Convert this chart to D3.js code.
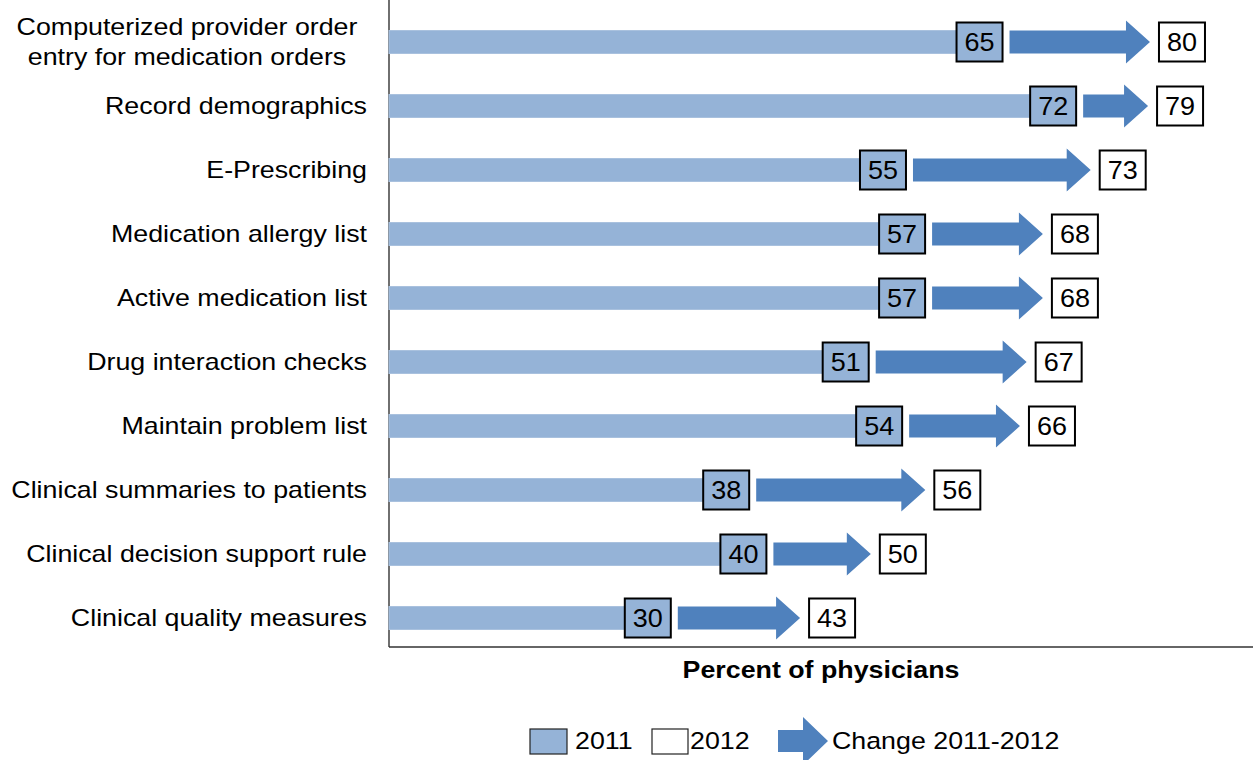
<!DOCTYPE html>
<html>
<head>
<meta charset="utf-8">
<script src="https://cdn.jsdelivr.net/npm/d3@7"></script>
<style>
  body { margin: 0; background: #fff; }
  svg { display: block; font-family: "Liberation Sans", Arial, sans-serif; }
</style>
</head>
<body>
<div id="chart"></div>
<script>
var categories = [
	"Computerized provider order\nentry for medication orders",
	"Record demographics",
	"E-Prescribing",
	"Medication allergy list",
	"Active medication list",
	"Drug interaction checks",
	"Maintain problem list",
	"Clinical summaries to patients",
	"Clinical decision support rule",
	"Clinical quality measures"
];
// labels show them rounded
var values2011 = [64.7, 72.4, 54.6, 56.6, 56.6, 50.7, 54.2, 38.2, 40.0, 30.0];
var values2012 = [79.6, 79.4, 73.4, 68.4, 68.4, 66.7, 66.0, 56.1, 50.4, 43.0];
var legendLabels = ["2011", "2012", "Change 2011-2012"];
var xLabel = "Percent of physicians";

var svgWidth = 1253, svgHeight = 760;
var light = "#95b3d7", dark = "#4f81bd";
var SX = 1.14;     // the source text is a bit wide
var SX_CAT = 1.165;
var SX_NUM = 1.08;

var data = categories.map(function(c, i) {
	return {cat: c, v1: values2011[i], v2: values2012[i]};
});

var svg = d3.select("#chart").append("svg")
	.attr("width", svgWidth)
	.attr("height", svgHeight);

var xScale = d3.scaleLinear().domain([0, 90]).range([389, 389 + 860.4]);
var yScale = d3.scalePoint().domain(categories).range([42, 618]);
var fmt = function(v) { return Math.round(v); };

// stretched text helper
function place(sel, x, y, sx) {
	return sel.attr("transform", "translate(" + x + "," + y + ") scale(" + (sx || SX) + ",1)");
}

// arrow shape from x0 to tip, centered on cy
function arrowPath(x0, tip, cy, shaft, head, headLen) {
	var hx = tip - headLen;
	return "M" + x0 + "," + (cy - shaft) +
		"L" + hx + "," + (cy - shaft) +
		"L" + hx + "," + (cy - head) +
		"L" + tip + "," + cy +
		"L" + hx + "," + (cy + head) +
		"L" + hx + "," + (cy + shaft) +
		"L" + x0 + "," + (cy + shaft) + "Z";
}

var boxW = 46, boxH = 39;
function box1Right(d) { return xScale(d.v1) - 5; }

// axes lines
svg.append("line")
	.attr("x1", xScale(0)).attr("x2", xScale(0))
	.attr("y1", 0).attr("y2", 647)
	.attr("stroke", "#222").attr("stroke-width", 1.3);
svg.append("line")
	.attr("x1", xScale(0)).attr("x2", svgWidth)
	.attr("y1", 647).attr("y2", 647)
	.attr("stroke", "#333").attr("stroke-width", 1.6);

var row = svg.selectAll(".row")
	.data(data)
	.enter().append("g")
	.attr("class", "row");

// 2011 bar
row.append("rect")
	.attr("x", xScale(0))
	.attr("y", function(d) { return yScale(d.cat) - 11.5; })
	.attr("width", function(d) { return box1Right(d) - xScale(0); })
	.attr("height", 23)
	.attr("fill", light)
	.attr("stroke", "#a9c1de")
	.attr("stroke-width", 1);

// change arrow
row.append("path")
	.attr("d", function(d) {
		return arrowPath(box1Right(d) + 7, xScale(d.v2), yScale(d.cat), 11.5, 21.5, 24);
	})
	.attr("fill", dark);

// 2011 box
row.append("rect")
	.attr("x", function(d) { return box1Right(d) - boxW; })
	.attr("y", function(d) { return yScale(d.cat) - boxH / 2; })
	.attr("width", boxW)
	.attr("height", boxH)
	.attr("fill", light)
	.attr("stroke", "#000")
	.attr("stroke-width", 2);

row.append("text")
	.each(function(d) { place(d3.select(this), box1Right(d) - boxW / 2, yScale(d.cat) + 9, SX_NUM); })
	.attr("text-anchor", "middle")
	.attr("font-size", 25)
	.attr("fill", "#000")
	.text(function(d) { return fmt(d.v1); });

// 2012 box
row.append("rect")
	.attr("x", function(d) { return xScale(d.v2) + 9; })
	.attr("y", function(d) { return yScale(d.cat) - boxH / 2; })
	.attr("width", boxW)
	.attr("height", boxH)
	.attr("fill", "#fff")
	.attr("stroke", "#000")
	.attr("stroke-width", 2);

row.append("text")
	.each(function(d) { place(d3.select(this), xScale(d.v2) + 9 + boxW / 2, yScale(d.cat) + 9, SX_NUM); })
	.attr("text-anchor", "middle")
	.attr("font-size", 25)
	.attr("fill", "#000")
	.text(function(d) { return fmt(d.v2); });

// category labels, wrapped ones are centred
row.append("text")
	.attr("font-size", 23)
	.attr("fill", "#000")
	.each(function(d) {
		var lines = d.cat.split("\n");
		var cy = yScale(d.cat);
		var t = d3.select(this);
		if (lines.length > 1) {
			t.attr("text-anchor", "middle");
			place(t, 187, cy + 8 - (lines.length - 1) * 15, SX_CAT);
		} else {
			t.attr("text-anchor", "end");
			place(t, 367, cy + 8, SX_CAT);
		}
		lines.forEach(function(l, i) {
			t.append("tspan").attr("x", 0).attr("dy", i ? 30 : 0).text(l);
		});
	});

// x label
place(svg.append("text"), 821, 678)
	.attr("text-anchor", "middle")
	.attr("font-size", 23.5)
	.attr("font-weight", "bold")
	.attr("fill", "#000")
	.text(xLabel);

// legend
var ly = 741;
var legend = svg.append("g").attr("class", "legend");
legend.append("rect")
	.attr("x", 530).attr("y", ly - 12).attr("width", 37).attr("height", 25)
	.attr("fill", light).attr("stroke", "#222").attr("stroke-width", 1.2);
place(legend.append("text"), 575, ly + 8)
	.attr("font-size", 23.5).text(legendLabels[0]);
legend.append("rect")
	.attr("x", 652).attr("y", ly - 12).attr("width", 36).attr("height", 25)
	.attr("fill", "#fff").attr("stroke", "#222").attr("stroke-width", 1.2);
place(legend.append("text"), 690, ly + 8)
	.attr("font-size", 23.5).text(legendLabels[1]);
legend.append("path")
	.attr("d", arrowPath(778, 828, ly, 11, 24, 25))
	.attr("fill", dark);
place(legend.append("text"), 832, ly + 8)
	.attr("font-size", 23.5).text(legendLabels[2]);
</script>
</body>
</html>
